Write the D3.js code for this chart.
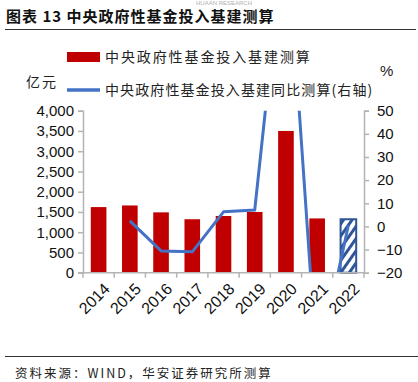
<!DOCTYPE html>
<html>
<head>
<meta charset="utf-8">
<script src="https://cdn.jsdelivr.net/npm/d3@7"></script>
<style>
  body { margin: 0; background: #fff; }
  svg { display: block; }
</style>
</head>
<body>
<script>
// 数据
const years = ["2014", "2015", "2016", "2017", "2018", "2019", "2020", "2021", "2022"];
const investment = [1620, 1660, 1490, 1320, 1400, 1500, 3500, 1340, 1320];
const yoy = [null, 2.4, -10.6, -11.0, 6.3, 7.1, 133, -62, 0.5];
const leftTicks = [0, 500, 1000, 1500, 2000, 2500, 3000, 3500, 4000];
const rightTicks = [-20, -10, 0, 10, 20, 30, 40, 50];
const estimateYear = "2022";

const width = 418, height = 382;
const plot = { left: 83, right: 364, top: 110.7, bottom: 272.7 };
const axisColor = "#b4b4b4";
const red = "#C00000", blue = "#4472C4", hatchBlue = "#2F5597";
const cjk = "'Noto Sans CJK SC', sans-serif";
const latin = "'Liberation Sans', Arial, sans-serif";

const svg = d3.select("body").append("svg")
    .attr("width", width)
    .attr("height", height);

const defs = svg.append("defs");
defs.append("clipPath").attr("id", "plotClip")
  .append("rect")
    .attr("x", plot.left).attr("y", plot.top)
    .attr("width", plot.right - plot.left)
    .attr("height", plot.bottom - plot.top);

// 斜线填充
const pat = defs.append("pattern")
    .attr("id", "hatch")
    .attr("patternUnits", "userSpaceOnUse")
    .attr("width", 7).attr("height", 7)
    .attr("patternTransform", "rotate(35)");
pat.append("rect").attr("width", 7).attr("height", 7).attr("fill", "#fff");
pat.append("rect").attr("width", 3).attr("height", 7).attr("fill", hatchBlue);

// 比例尺
const x = d3.scaleBand()
    .domain(years)
    .range([plot.left, plot.right])
    .paddingInner(0.5)
    .paddingOuter(0.25);

const yL = d3.scaleLinear().domain([0, 4000]).range([plot.bottom, plot.top]);
const yR = d3.scaleLinear().domain([-20, 50]).range([plot.bottom, plot.top]);

// 水印
svg.append("text")
    .attr("x", 196).attr("y", 5)
    .style("font", `6px ${latin}`)
    .style("fill", "#b0b0b0")
    .text("HUAAN RESEARCH");

// 标题
svg.append("text")
    .attr("x", 6).attr("y", 22)
    .style("font", `bold 15px ${cjk}`)
    .style("letter-spacing", "1px")
    .style("fill", "#111")
    .text("图表 13 中央政府性基金投入基建测算");

svg.append("line")
    .attr("x1", 5).attr("x2", 416)
    .attr("y1", 29.5).attr("y2", 29.5)
    .attr("stroke", "#333").attr("stroke-width", 1);

// 图例
svg.append("rect")
    .attr("x", 67).attr("y", 52)
    .attr("width", 33).attr("height", 10)
    .attr("fill", red);
svg.append("text")
    .attr("x", 105).attr("y", 62)
    .style("font", `14px ${cjk}`)
    .style("letter-spacing", "1.9px")
    .style("fill", "#222")
    .text("中央政府性基金投入基建测算");

svg.append("line")
    .attr("x1", 67).attr("x2", 100)
    .attr("y1", 90).attr("y2", 90)
    .attr("stroke", blue).attr("stroke-width", 3.5);
svg.append("text")
    .attr("x", 105).attr("y", 95)
    .style("font", `14px ${cjk}`)
    .style("letter-spacing", "1.1px")
    .style("fill", "#222")
    .text("中央政府性基金投入基建同比测算(右轴)");

// 单位
svg.append("text")
    .attr("x", 26).attr("y", 87)
    .style("font", `14px ${cjk}`)
    .style("letter-spacing", "2px")
    .style("fill", "#222")
    .text("亿元");
svg.append("text")
    .attr("x", 380).attr("y", 76)
    .style("font", `15px ${latin}`)
    .style("fill", "#222")
    .text("%");

// 柱子
svg.append("g")
  .selectAll("rect")
  .data(years)
  .join("rect")
    .attr("x", d => x(d))
    .attr("width", x.bandwidth())
    .attr("y", (d, i) => yL(investment[i]))
    .attr("height", (d, i) => yL(0) - yL(investment[i]))
    .attr("fill", d => d === estimateYear ? "url(#hatch)" : red)
    .attr("stroke", d => d === estimateYear ? hatchBlue : "none")
    .attr("stroke-width", 2);

// 折线
const line = d3.line()
    .defined(d => d.v !== null)
    .x(d => x(d.year) + x.bandwidth() / 2)
    .y(d => yR(d.v));

svg.append("path")
    .datum(years.map((year, i) => ({ year, v: yoy[i] })))
    .attr("clip-path", "url(#plotClip)")
    .attr("fill", "none")
    .attr("stroke", blue)
    .attr("stroke-width", 3)
    .attr("stroke-linejoin", "round")
    .attr("d", line);

// 坐标轴
const fmt = d3.format(",");

const axL = svg.append("g")
    .attr("transform", `translate(${plot.left},0)`)
    .call(d3.axisLeft(yL).tickValues(leftTicks).tickFormat(fmt).tickSize(5).tickPadding(4));

const axR = svg.append("g")
    .attr("transform", `translate(${plot.right},0)`)
    .call(d3.axisRight(yR).tickValues(rightTicks).tickSize(5).tickPadding(8));

// x 轴：刻度在类别分界处
const step = x.step();
const x0 = x(years[0]) - x.paddingOuter() * step;
const boundaries = d3.range(years.length + 1).map(i => x0 + i * step);
const axB = svg.append("g");
axB.append("line")
    .attr("x1", plot.left - 5).attr("x2", plot.right)
    .attr("y1", plot.bottom).attr("y2", plot.bottom);
axB.selectAll(".btick")
  .data(boundaries)
  .join("line")
    .attr("class", "btick")
    .attr("x1", d => d).attr("x2", d => d)
    .attr("y1", plot.bottom).attr("y2", plot.bottom + 5);
axB.selectAll("line").attr("stroke", axisColor).attr("stroke-width", 1.5);

axB.selectAll("text")
  .data(years)
  .join("text")
    .attr("transform", d => `translate(${x(d) + x.bandwidth() / 2 + 4},${plot.bottom + 9}) rotate(-45)`)
    .attr("text-anchor", "end")
    .attr("dy", "0.72em")
    .style("font", `16px ${latin}`)
    .style("fill", "#111")
    .text(d => d);

[axL, axR].forEach(g => {
  g.select(".domain").attr("stroke", axisColor).attr("stroke-width", 1.5);
  g.selectAll(".tick line").attr("stroke", axisColor).attr("stroke-width", 1.5);
  g.selectAll(".tick text").style("font", `15px ${latin}`).style("fill", "#111");
});

// 底部来源
svg.append("line")
    .attr("x1", 5).attr("x2", 418)
    .attr("y1", 356.5).attr("y2", 356.5)
    .attr("stroke", "#333").attr("stroke-width", 1);
svg.append("text")
    .attr("x", 15).attr("y", 378)
    .style("font", `12.5px ${cjk}`)
    .style("letter-spacing", "2px")
    .style("fill", "#222")
    .text("资料来源：WIND，华安证券研究所测算");
</script>
</body>
</html>
